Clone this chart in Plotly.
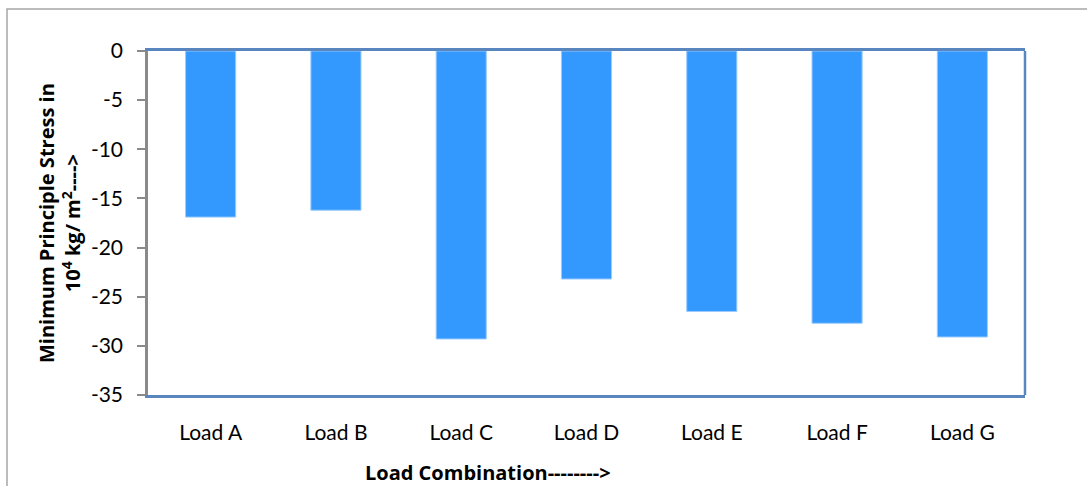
import plotly.graph_objects as go

categories = ["Load A", "Load B", "Load C", "Load D", "Load E", "Load F", "Load G"]
stress = [-16.9, -16.2, -29.3, -23.2, -26.5, -27.7, -29.1]
y_ticks = [0, -5, -10, -15, -20, -25, -30, -35]
y_tick_text = ["0", "-5", "-10", "-15", "-20", "-25", "-30", "-35"]

W, H = 1087, 486
L, R, T, B = 148, 62, 51, 91
pw, ph = W - L - R, H - T - B

fig = go.Figure(go.Bar(
    x=categories, y=stress,
    marker=dict(color="#3399ff", line=dict(color="#9ccbff", width=1)),
))

tick_font = "Lato, 'Open Sans', sans-serif"
title_font = "'Open Sans', 'Noto Sans', sans-serif"
fig.update_layout(
    width=W, height=H,
    margin=dict(l=L, r=R, t=T, b=B),
    paper_bgcolor="white", plot_bgcolor="white",
    bargap=0.6,
    showlegend=False,
    font=dict(family=tick_font, size=21, color="#000000"),
    xaxis=dict(
        showline=True, linecolor="#5a86c0", linewidth=2.5, mirror=True,
        ticks="", showgrid=False, ticklabelstandoff=17,
        tickfont=dict(family=tick_font, size=21),
    ),
    yaxis=dict(
        range=[-35, 0], tickvals=y_ticks, ticktext=y_tick_text,
        showgrid=False, zeroline=False,
        showline=True, linecolor="#8a8a8a", linewidth=2.5,
        ticks="outside", ticklen=8, tickwidth=2, tickcolor="#8a8a8a",
        ticklabelstandoff=10, tickfont=dict(family=tick_font, size=21),
    ),
    shapes=[
        dict(type="line", xref="paper", yref="paper", x0=1, x1=1, y0=0, y1=1,
             line=dict(color="#5a86c0", width=2.5)),
        dict(type="rect", xref="paper", yref="paper",
             x0=(7 - L) / pw, x1=1.3, y0=-0.6, y1=1 + (T - 9) / ph,
             line=dict(color="#a6a6a6", width=1.5)),
    ],
    annotations=[
        dict(text="<b>Minimum Principle Stress in<br>10<sup>4</sup> kg/ m<sup>2</sup>----></b>",
             xref="paper", yref="paper", x=(59 - L) / pw, y=0.5,
             textangle=-90, showarrow=False,
             font=dict(family=title_font, size=20),
             xanchor="center", yanchor="middle"),
        dict(text="<b>Load Combination--------></b>",
             xref="paper", yref="paper", x=(488 - L) / pw, y=-(472 - T - ph) / ph,
             showarrow=False, font=dict(family=title_font, size=20),
             xanchor="center", yanchor="middle"),
    ],
)

fig.write_html("out.html", config={"displayModeBar": False},
               post_script="document.body.style.margin='0';document.body.style.padding='0';")
